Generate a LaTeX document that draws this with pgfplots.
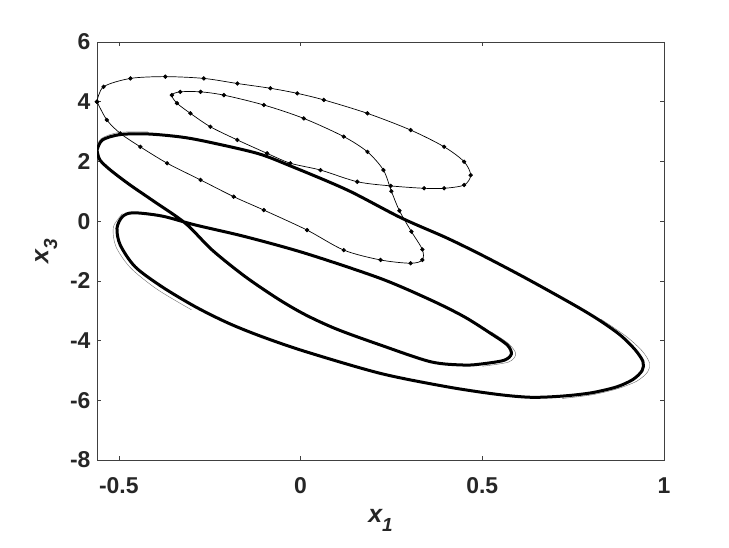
\documentclass[border=0pt]{standalone}
\usepackage{fontspec}
\setmainfont{Liberation Sans}
\usepackage{pgfplots}
\pgfplotsset{compat=1.18}
\begin{document}
\begin{tikzpicture}[x=1bp,y=1bp]
\path[use as bounding box] (0,0) rectangle (729,548);
\begin{axis}[
  at={(97bp,88bp)}, anchor=south west,
  scale only axis, width=567bp, height=418bp,
  xmin=-0.56, xmax=1, ymin=-8, ymax=6,
  xtick={-0.5,0,0.5,1}, ytick={-8,-6,-4,-2,0,2,4,6},
  xticklabels={-0.5,0,0.5,1},
  yticklabels={-8,-6,-4,-2,0,2,4,6},
  tick align=inside, major tick length=4bp,
  axis line style={black!75, line width=0.6pt},
  tick style={black!75, line width=0.6pt},
  ticklabel style={font=\fontsize{23}{23}\selectfont\bfseries, text=black!85},
  xticklabel style={yshift=-14bp},
  yticklabel style={xshift=-3bp},
  xlabel={\fontsize{25}{25}\selectfont\bfseries\itshape x\raisebox{-0.35em}{\fontsize{19}{19}\selectfont 1}},
  ylabel={\fontsize{25}{25}\selectfont\bfseries\itshape x\raisebox{-0.35em}{\fontsize{19}{19}\selectfont 3}},
  label style={text=black!85},
  xlabel style={yshift=-9bp},
  ylabel style={yshift=6bp},
  clip=true,
]
% thin curve with markers (period orbit)
\addplot[black, line width=0.7pt, smooth, tension=0.5, mark=*, mark size=1.8bp,
  mark options={fill=black}] coordinates {
(-0.560,4.00) (-0.542,4.50) (-0.468,4.78) (-0.372,4.84) (-0.266,4.78) (-0.174,4.61)
(-0.083,4.45) (-0.009,4.28) (0.064,4.06) (0.184,3.61) (0.303,3.05) (0.395,2.49)
(0.450,1.99) (0.468,1.54) (0.450,1.21) (0.395,1.10) (0.340,1.10) (0.248,1.18)
(0.156,1.32) (0.055,1.71) (-0.028,1.94) (-0.092,2.27) (-0.174,2.72) (-0.248,3.16)
(-0.303,3.61) (-0.340,3.95) (-0.354,4.22) (-0.331,4.33) (-0.275,4.33) (-0.211,4.22)
(-0.101,3.89) (0.009,3.44) (0.119,2.83) (0.184,2.32) (0.228,1.71) (0.250,1.00)
(0.272,0.35) (0.305,-0.35) (0.335,-0.95) (0.335,-1.30) (0.303,-1.41) (0.220,-1.30)
(0.119,-0.97) (0.018,-0.30) (-0.101,0.37) (-0.184,0.82) (-0.275,1.38) (-0.367,1.94)
(-0.441,2.49) (-0.496,2.94) (-0.533,3.39) (-0.560,4.00)
};
% thin offset passes (multi-pass fringe)
\addplot[black!55, line width=0.4pt, smooth, tension=0.5, mark=none] coordinates {
(-0.565,2.30) (-0.550,2.75) (-0.500,2.97) (-0.420,2.99)
};
\addplot[black!55, line width=0.4pt, smooth, tension=0.5, mark=none] coordinates {
(-0.490,0.25) (-0.515,-0.20) (-0.508,-0.85) (-0.468,-1.56) (-0.395,-2.28) (-0.300,-2.97)
};
\addplot[black!60, line width=0.4pt, smooth, tension=0.5, mark=none] coordinates {
(0.826,-3.28) (0.895,-3.85) (0.940,-4.35) (0.960,-4.75) (0.955,-5.05) (0.925,-5.36)
(0.870,-5.62) (0.800,-5.82) (0.720,-5.94)
};
\addplot[black!60, line width=0.4pt, smooth, tension=0.5, mark=none] coordinates {
(0.523,-3.70) (0.572,-4.10) (0.592,-4.45) (0.572,-4.72) (0.500,-4.86)
};
% thick attractor
\addplot[black, line width=3bp, smooth, tension=0.5, mark=none] coordinates {
(-0.560,2.38) (-0.545,2.72) (-0.496,2.90) (-0.420,2.92) (-0.330,2.82) (-0.257,2.66)
(-0.119,2.27) (-0.028,1.85) (0.129,1.04) (0.275,0.12) (0.400,-0.55)
(0.496,-1.12) (0.600,-1.78) (0.690,-2.38) (0.770,-2.93) (0.826,-3.35) (0.880,-3.82)
(0.920,-4.30) (0.942,-4.70) (0.940,-5.00) (0.915,-5.30) (0.870,-5.55) (0.800,-5.75)
(0.720,-5.86) (0.634,-5.90) (0.540,-5.80) (0.404,-5.55) (0.220,-5.10) (0.014,-4.37)
(-0.106,-3.87) (-0.198,-3.42) (-0.289,-2.87) (-0.381,-2.20) (-0.455,-1.53) (-0.496,-0.80)
(-0.505,-0.24) (-0.490,0.15) (-0.460,0.28) (-0.381,0.17) (-0.289,-0.13) (-0.152,-0.52)
(0.014,-1.08) (0.220,-1.92) (0.358,-2.64) (0.450,-3.20) (0.523,-3.76) (0.569,-4.15)
(0.580,-4.45) (0.560,-4.66) (0.500,-4.78) (0.450,-4.82) (0.358,-4.71) (0.220,-4.15)
(0.100,-3.62) (0.014,-3.14) (-0.060,-2.62) (-0.152,-1.86) (-0.243,-0.97) (-0.317,-0.07)
(-0.409,0.71) (-0.470,1.22) (-0.523,1.71) (-0.552,2.05) (-0.560,2.38)
};
\end{axis}
\end{tikzpicture}
\end{document}
